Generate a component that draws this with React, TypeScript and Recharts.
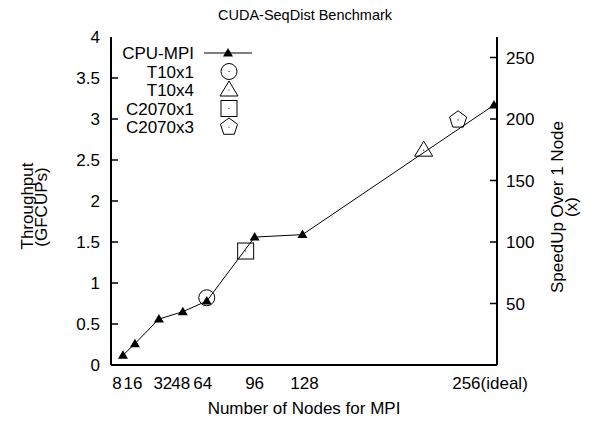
import React from 'react';
import { ComposedChart, Line, Scatter, XAxis, YAxis } from 'recharts';

const chartTitle = 'CUDA-SeqDist Benchmark';
const xTitle = 'Number of Nodes for MPI';
const yLeftTitle = ['Throughput', '(GFCUPs)'];
const yRightTitle = ['SpeedUp Over 1 Node', '(x)'];

const nodeCounts = [8, 16, 32, 48, 64, 96, 128, 256];
const nodeTickLabels = ['8', '16', '32', '48', '64', '96', '128', '256(ideal)'];
const cpuMpiThroughput = [0.12, 0.26, 0.56, 0.65, 0.78, 1.56, 1.59, 3.17];

const t10x1Nodes = [64];
const t10x1Throughput = [0.82];
const t10x4Nodes = [209];
const t10x4Throughput = [2.62];
const c2070x1Nodes = [90];
const c2070x1Throughput = [1.39];
const c2070x3Nodes = [232];
const c2070x3Throughput = [2.99];

const leftTicks = [0, 0.5, 1, 1.5, 2, 2.5, 3, 3.5, 4];
const rightTicks = [50, 100, 150, 200, 250];
const xDomain = [0, 258];
const leftDomain = [0, 4];
const rightDomain = [0, 266.67];

const legendNames = ['CPU-MPI', 'T10x1', 'T10x4', 'C2070x1', 'C2070x3'];
const legendShapes = ['lineTri', 'circle', 'triangle', 'square', 'pentagon'];

// styling: small horizontal nudges of the x tick labels (as in the original figure)
const xLabelNudge = [-6, -2, 4, -2, -4, 0, 2, -4];

const FONT = '"Liberation Sans", Arial, Helvetica, sans-serif';
const FS = 17;
const W = 595;
const H = 421;

const cpuData = nodeCounts.map((n, i) => ({ n, v: cpuMpiThroughput[i] }));
const toPts = (ns: number[], vs: number[]) => ns.map((n, i) => ({ n, v: vs[i] }));

function Marker({ kind, cx, cy }: { kind: string; cx: number; cy: number }) {
  const s = { fill: 'none', stroke: '#000', strokeWidth: 1 } as any;
  if (kind === 'filledTri') {
    return <path d={`M${cx},${cy - 5} L${cx + 5},${cy + 3.5} L${cx - 5},${cy + 3.5} Z`} fill="#000" />;
  }
  if (kind === 'circle') {
    return (
      <g>
        <circle cx={cx} cy={cy} r={8} {...s} />
        <circle cx={cx} cy={cy} r={0.6} fill="#000" />
      </g>
    );
  }
  if (kind === 'triangle') {
    return (
      <g>
        <path d={`M${cx},${cy - 9} L${cx + 9},${cy + 6} L${cx - 9},${cy + 6} Z`} {...s} />
        <circle cx={cx} cy={cy} r={0.6} fill="#000" />
      </g>
    );
  }
  if (kind === 'square') {
    return (
      <g>
        <rect x={cx - 8} y={cy - 8} width={16} height={16} {...s} />
        <circle cx={cx} cy={cy} r={0.6} fill="#000" />
      </g>
    );
  }
  if (kind === 'pentagon') {
    const r = 9;
    const pts = [0, 1, 2, 3, 4]
      .map((k) => {
        const a = -Math.PI / 2 + (k * 2 * Math.PI) / 5;
        return `${cx + r * Math.cos(a)},${cy + r * Math.sin(a)}`;
      })
      .join(' ');
    return (
      <g>
        <polygon points={pts} {...s} />
        <circle cx={cx} cy={cy} r={0.6} fill="#000" />
      </g>
    );
  }
  return null;
}

const LeftTick = (props: any) => {
  const { x, y, payload } = props;
  return (
    <g>
      {payload.value > 0 && payload.value < 4 && (
        <line x1={x} y1={y} x2={x + 7} y2={y} stroke="#000" strokeWidth={1.5} />
      )}
      <text x={x - 11} y={y} dy="0.36em" textAnchor="end" fontFamily={FONT} fontSize={FS} fill="#000">
        {payload.value}
      </text>
    </g>
  );
};

const RightTick = (props: any) => {
  const { x, y, payload } = props;
  return (
    <g>
      <line x1={x - 7} y1={y} x2={x} y2={y} stroke="#000" strokeWidth={1.5} />
      <text x={x + 9} y={y} dy="0.36em" textAnchor="start" fontFamily={FONT} fontSize={FS} fill="#000">
        {payload.value}
      </text>
    </g>
  );
};

const BottomTick = (props: any) => {
  const { x, y, payload } = props;
  const idx = nodeCounts.indexOf(payload.value);
  const label = idx >= 0 ? nodeTickLabels[idx] : String(payload.value);
  const nudge = idx >= 0 ? xLabelNudge[idx] : 0;
  return (
    <text x={x + nudge} y={y + 24} textAnchor="middle" fontFamily={FONT} fontSize={FS} fill="#000">
      {label}
    </text>
  );
};

function Overlay() {
  const rowY0 = 53;
  const rowGap = 18.5;
  return (
    <svg width={W} height={H} style={{ position: 'absolute', left: 0, top: 0, pointerEvents: 'none' }}>
      <text x={305} y={20} textAnchor="middle" fontFamily={FONT} fontSize={14.5} fill="#000">
        {chartTitle}
      </text>
      <text x={304} y={414} textAnchor="middle" fontFamily={FONT} fontSize={FS} fill="#000">
        {xTitle}
      </text>
      <text transform="translate(27,206) rotate(-90)" textAnchor="middle" dominantBaseline="central" fontFamily={FONT} fontSize={FS} fill="#000">
        {yLeftTitle[0]}
      </text>
      <text transform="translate(41,207) rotate(-90)" textAnchor="middle" dominantBaseline="central" fontFamily={FONT} fontSize={FS} fill="#000">
        {yLeftTitle[1]}
      </text>
      <text transform="translate(557,207) rotate(-90)" textAnchor="middle" dominantBaseline="central" fontFamily={FONT} fontSize={FS} fill="#000">
        {yRightTitle[0]}
      </text>
      <text transform="translate(571,207) rotate(-90)" textAnchor="middle" dominantBaseline="central" fontFamily={FONT} fontSize={FS} fill="#000">
        {yRightTitle[1]}
      </text>
      {legendNames.map((name, i) => {
        const y = rowY0 + i * rowGap;
        const kind = legendShapes[i];
        return (
          <g key={name}>
            <text x={194} y={y} dy="0.36em" textAnchor="end" fontFamily={FONT} fontSize={FS} fill="#000">
              {name}
            </text>
            {kind === 'lineTri' ? (
              <g>
                <line x1={204} y1={y} x2={252} y2={y} stroke="#000" strokeWidth={1} />
                <Marker kind="filledTri" cx={228} cy={y} />
              </g>
            ) : (
              <Marker kind={kind} cx={229} cy={y} />
            )}
          </g>
        );
      })}
    </svg>
  );
}

export default function App() {
  return (
    <div style={{ position: 'absolute', left: 0, top: 0, width: W, height: H, background: '#fff' }}>
      <ComposedChart
        width={W}
        height={H}
        data={cpuData}
        margin={{ top: 37, right: 38, bottom: 26, left: 51 }}
      >
        <XAxis
          dataKey="n"
          type="number"
          domain={xDomain}
          ticks={nodeCounts}
          allowDataOverflow
          height={30}
          tickSize={0}
          tickMargin={0}
          tickLine={false}
          axisLine={{ stroke: '#000', strokeWidth: 2 }}
          tick={<BottomTick />}
          interval={0}
        />
        <XAxis
          xAxisId="top"
          dataKey="n"
          orientation="top"
          type="number"
          domain={xDomain}
          allowDataOverflow
          height={0}
          tick={false}
          tickLine={false}
          axisLine={{ stroke: '#000', strokeWidth: 2 }}
        />
        <YAxis
          type="number"
          domain={leftDomain}
          ticks={leftTicks}
          allowDataOverflow
          width={60}
          tickSize={0}
          tickMargin={0}
          tickLine={false}
          axisLine={{ stroke: '#000', strokeWidth: 2 }}
          tick={<LeftTick />}
          interval={0}
        />
        <YAxis
          yAxisId="right"
          orientation="right"
          type="number"
          domain={rightDomain}
          ticks={rightTicks}
          allowDataOverflow
          width={60}
          tickSize={0}
          tickMargin={0}
          tickLine={false}
          axisLine={{ stroke: '#000', strokeWidth: 2 }}
          tick={<RightTick />}
          interval={0}
        />
        <Scatter
          data={cpuData}
          dataKey="v"
          xAxisId="top"
          yAxisId="right"
          isAnimationActive={false}
          shape={() => <g />}
        />
        <Line
          dataKey="v"
          type="linear"
          stroke="#000"
          strokeWidth={1}
          isAnimationActive={false}
          dot={(p: any) => <Marker key={`d${p.index}`} kind="filledTri" cx={p.cx} cy={p.cy} />}
          activeDot={false}
        />
        <Scatter data={toPts(t10x1Nodes, t10x1Throughput)} dataKey="v" isAnimationActive={false}
          shape={(p: any) => <Marker kind="circle" cx={p.cx} cy={p.cy} />} />
        <Scatter data={toPts(t10x4Nodes, t10x4Throughput)} dataKey="v" isAnimationActive={false}
          shape={(p: any) => <Marker kind="triangle" cx={p.cx} cy={p.cy} />} />
        <Scatter data={toPts(c2070x1Nodes, c2070x1Throughput)} dataKey="v" isAnimationActive={false}
          shape={(p: any) => <Marker kind="square" cx={p.cx} cy={p.cy} />} />
        <Scatter data={toPts(c2070x3Nodes, c2070x3Throughput)} dataKey="v" isAnimationActive={false}
          shape={(p: any) => <Marker kind="pentagon" cx={p.cx} cy={p.cy} />} />
      </ComposedChart>
      <Overlay />
    </div>
  );
}
